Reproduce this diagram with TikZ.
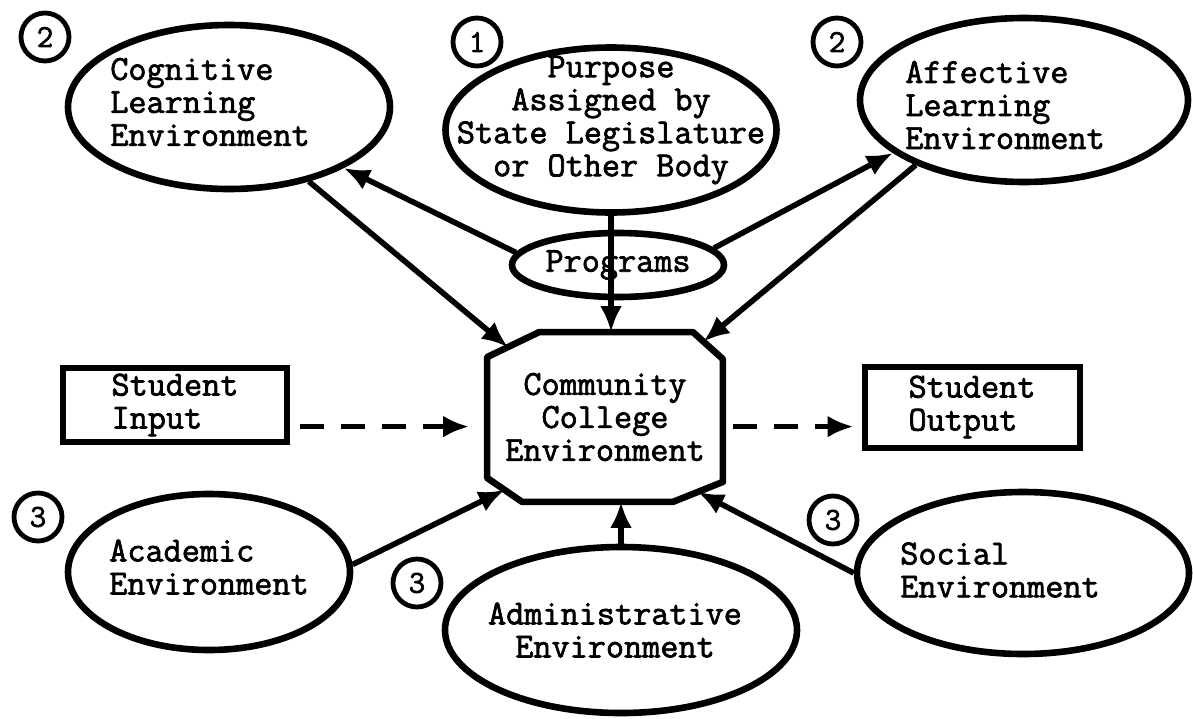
\documentclass[tikz,border=0pt]{standalone}
\usepackage{fontspec}
\usepackage{tikz}
\usetikzlibrary{arrows.meta,positioning,shapes,calc}
\newfontfamily\typefont{Latin Modern Mono}[FakeBold=2]

\begin{document}
\begin{tikzpicture}[
  x=0.5pt, y=-0.5pt,
  txt/.style={font=\typefont\fontsize{17.6}{16.5}\selectfont},
  env/.style={ellipse,draw,line width=3.3pt,inner sep=0pt,txt},
  envtext/.style={align=left,inner sep=0pt,txt},
  box/.style={rectangle,draw,line width=3pt,align=left,inner sep=0pt,txt},
  badge/.style={circle,draw,line width=2.4pt,minimum size=24pt,inner sep=0pt,font=\typefont\fontsize{16}{16}\selectfont},
  arrow/.style={-{Latex[length=13pt,width=11pt]},line width=2.8pt},
  dasharrow/.style={arrow,dash pattern=on 12pt off 8.5pt}
]
\useasboundingbox (0,0) rectangle (1193,718);

% centre
\node[rectangle,minimum width=117.5pt,minimum height=84.5pt,align=center,txt] (cce) at (605,417) {Community\\College\\Environment};
\draw[line width=3.3pt,line join=round]
  ($(cce.north west)+(0,25)$) coordinate (c1) -- ($(cce.north west)+(52,0)$) coordinate (c2)
  -- ($(cce.north east)+(-30,0)$) coordinate (c3) -- ($(cce.north east)+(0,27)$) coordinate (c4)
  -- ($(cce.south east)+(0,-20)$) coordinate (c5) -- ($(cce.south east)+(-50,0)$) coordinate (c6)
  -- ($(cce.south west)+(35,0)$) coordinate (c7) -- ($(cce.south west)+(0,-24)$) coordinate (c8) -- cycle;

% upper row
\node[env,minimum width=161pt,minimum height=82pt,
  label={[envtext,xshift=-9.5pt,yshift=2.5pt]center:{Cognitive\\Learning\\Environment}}] (cog) at (229,107) {};
\node[env,minimum width=165.5pt,minimum height=82.5pt,
  label={[envtext,align=center,yshift=5pt]center:{Purpose\\Assigned by\\State Legislature\\or Other Body}}] (purp) at (611,130) {};
\node[env,minimum width=164pt,minimum height=82pt,
  label={[envtext,xshift=-9.5pt,yshift=-2.5pt]center:{Affective\\Learning\\Environment}}] (aff) at (1024,100) {};
\node[env,minimum width=106pt,minimum height=32pt] (prog) at (618,265) {Programs};

% inputs and outputs
\node[box,minimum width=112pt,minimum height=37pt] (sin) at (175,405) {Student\\Input};
\node[box,minimum width=107.5pt,minimum height=40.5pt] (sout) at (972,407) {Student\\Output};

% lower row
\node[env,minimum width=141pt,minimum height=78pt,
  label={[envtext,yshift=2.5pt]center:{Academic\\Environment}}] (acad) at (209,572) {};
\node[env,minimum width=176pt,minimum height=83pt,
  label={[envtext,align=center,xshift=-3pt]center:{Administrative\\Environment}}] (adm) at (621,630) {};
\node[env,minimum width=166pt,minimum height=81pt,
  label={[envtext,xshift=-11.5pt,yshift=1.5pt]center:{Social\\Environment}}] (soc) at (1023,573) {};

% numbers
\node[badge] (cogno) at (45,37) {2};
\node[badge] (purpno) at (477,42) {1};
\node[badge] (affno) at (837,42) {2};
\node[badge] (acadno) at (38,517) {3};
\node[badge] (admno) at (417,583) {3};
\node[badge] (socno) at (833,520) {3};

% connectors
\draw[arrow] (cog.-43) -- ($(c1)!0.4!(c2)$);
\draw[arrow] (prog.173) -- (cog.-28);
\draw[arrow] (purp.south) -- (purp.south |- cce.north);
\draw[arrow] (prog.10) -- (aff.202);
\draw[arrow] (aff.211) -- ($(c3)!0.35!(c4)$);
\draw[arrow] (acad.3) -- ($(c7)!0.5!(c8)$);
\draw[arrow] (adm.north) -- (adm.north |- cce.south);
\draw[arrow] (soc.180) -- ($(c5)!0.5!(c6)$);

\coordinate (inA) at ($(sin.south east)!0.23!(sin.north east)$);
\draw[dasharrow,shorten <=5pt,shorten >=9pt] (inA) -- (inA -| cce.west);
\draw[dasharrow,shorten <=5pt,shorten >=4pt] (inA -| cce.east) -- (inA -| sout.west);
\end{tikzpicture}
\end{document}
